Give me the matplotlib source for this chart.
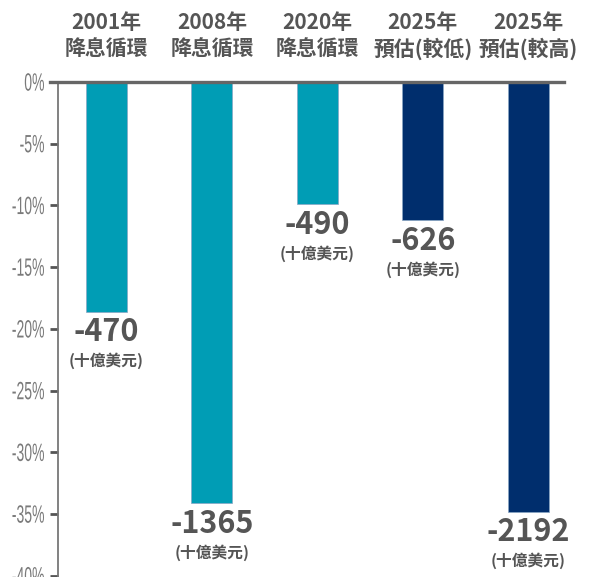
import matplotlib
matplotlib.use('Agg')
import matplotlib.pyplot as plt
from matplotlib.textpath import TextPath
from matplotlib.patches import PathPatch
from matplotlib.font_manager import FontProperties
from matplotlib.transforms import Affine2D, ScaledTranslation, blended_transform_factory

plt.rcParams['font.family'] = ['Noto Sans CJK TC', 'DejaVu Sans']

# 資料
years = ['2001年', '2008年', '2020年', '2025年', '2025年']
cycles = ['降息循環', '降息循環', '降息循環', '預估(較低)', '預估(較高)']
pct_change = [-18.6, -34.1, -9.9, -11.2, -34.8]
amounts = ['-470', '-1365', '-490', '-626', '-2192']
colors = ['#009DB5', '#009DB5', '#009DB5', '#002E6D', '#002E6D']
yticks = [0, -5, -10, -15, -20, -25, -30, -35, -40]
ytick_labels = ['0%', '-5%', '-10%', '-15%', '-20%', '-25%', '-30%', '-35%', '-40%']

W, H = 589, 577
DPI = 100
fig = plt.figure(figsize=(W / DPI, H / DPI), dpi=DPI)
ax = fig.add_axes([58 / W, 0, (564 - 58) / W, 1 - 82 / H])

x = list(range(len(pct_change)))
ax.bar(x, pct_change, width=0.39, color=colors, edgecolor='#8aa6c4', linewidth=0.5, zorder=2)

ax.set_xlim(-0.46, 4.34)
ax.set_ylim(-40.1, 0)
ax.set_xticks([])
ax.set_yticks(yticks)
ax.set_yticklabels([])
ax.tick_params(axis='y', length=6, width=2, color='#555555')

for s in ['top', 'right', 'bottom']:
    ax.spines[s].set_visible(False)
ax.spines['left'].set_color('#777777')
ax.spines['left'].set_linewidth(1.3)

# 0% 基準線
ax.axhline(0, xmin=-0.016, xmax=1.0, color='#666666', linewidth=2.4, clip_on=False, zorder=3)

# 窄體刻度標籤（水平壓縮文字）
fp = FontProperties(family='Liberation Sans')
blend = blended_transform_factory(ax.transAxes, ax.transData)
px = DPI / 72.0
for v, lab in zip(yticks, ytick_labels):
    tp = TextPath((0, 0), lab, size=18, prop=fp)
    ext = tp.get_extents()
    tr = (Affine2D().translate(-ext.x1, -(ext.y0 + ext.y1) / 2)
          .scale(0.56 * px, px)
          .translate(-14, 0)
          + ScaledTranslation(0, v, blend))
    fig.add_artist(PathPatch(tp, transform=tr, facecolor='#7a7a7a', edgecolor='none'))

# 類別標籤（圖表上方）
for i in x:
    ax.annotate(years[i], xy=(i, 0), xycoords='data', xytext=(0, 42.5), textcoords='offset points',
                ha='center', va='center', fontsize=15, fontweight='bold', color='#555555',
                annotation_clip=False)
    ax.annotate(cycles[i], xy=(i, 0), xycoords='data', xytext=(0, 24), textcoords='offset points',
                ha='center', va='center', fontsize=15, fontweight='bold', color='#555555',
                annotation_clip=False)

# 數值標籤
for i, v in enumerate(pct_change):
    ax.annotate(amounts[i], xy=(i, v), xytext=(0, -15), textcoords='offset points',
                ha='center', va='center', fontsize=22, fontweight='bold', color='#555555',
                annotation_clip=False)
    ax.annotate('(十億美元)', xy=(i, v), xytext=(0, -35.5), textcoords='offset points',
                ha='center', va='center', fontsize=11.3, fontweight='bold', color='#555555',
                annotation_clip=False)

fig.savefig('out.png', dpi=DPI)
plt.close(fig)
